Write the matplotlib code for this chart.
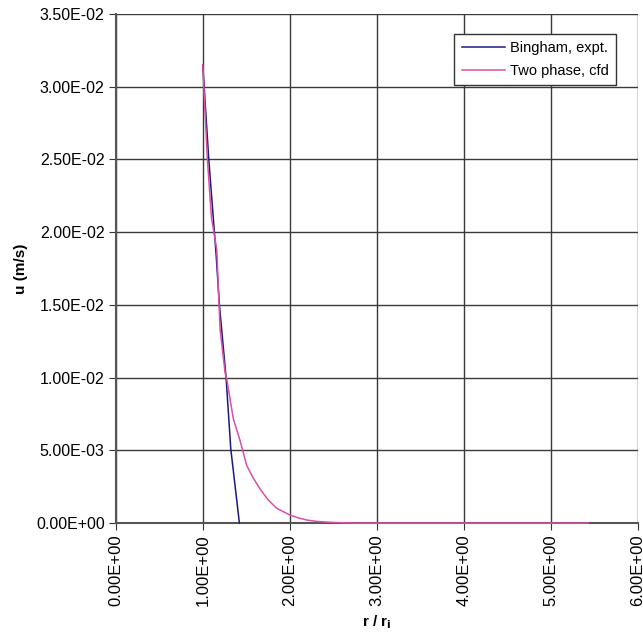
import matplotlib
matplotlib.use("Agg")
import matplotlib.pyplot as plt
from matplotlib.ticker import FuncFormatter, MultipleLocator

plt.rcParams['font.family'] = ['Liberation Sans', 'DejaVu Sans']

# Bingham, experimental profile
r_expt = [1.000, 1.069, 1.153, 1.191, 1.268, 1.322, 1.421]
u_expt = [0.0315, 0.0250, 0.0185, 0.0150, 0.0100, 0.0051, 0.0]

# Two phase, CFD profile
r_cfd = [1.000, 1.053, 1.100, 1.161, 1.199, 1.256, 1.276, 1.314, 1.352,
         1.429, 1.506, 1.580, 1.659, 1.750, 1.851, 2.003, 2.100, 2.195,
         2.300, 2.463, 2.600, 2.730, 3.50, 4.50, 5.43]
u_cfd = [0.0315, 0.0250, 0.0210, 0.0188, 0.01334, 0.01036, 0.0099, 0.0085,
         0.00715, 0.00566, 0.00394, 0.0031, 0.00234, 0.0016, 0.00101,
         0.00055, 0.00035, 0.00021, 0.00012, 0.00005, 0.00002, 0.0, 0.0,
         0.0, 0.0]

fig = plt.figure(figsize=(6.43, 6.34), dpi=100)
ax = fig.add_axes([0.180, 0.175, 0.812, 0.803])

ax.plot(r_expt, u_expt, color='#1c1a7a', lw=1.1, label='Bingham, expt.',
        zorder=4, clip_on=False)
ax.plot(r_cfd, u_cfd, color='#dc4fa6', lw=1.1, label='Two phase, cfd',
        zorder=4, clip_on=False)

ax.set_xlim(0, 6)
ax.set_ylim(0, 0.035)
ax.xaxis.set_major_locator(MultipleLocator(1))
ax.yaxis.set_major_locator(MultipleLocator(0.005))
sci = FuncFormatter(lambda v, p: f'{v:.2E}')
ax.xaxis.set_major_formatter(sci)
ax.yaxis.set_major_formatter(sci)
ax.tick_params(axis='x', labelrotation=90, labelsize=12, length=5,
               direction='out', color='#333333', pad=3)
ax.tick_params(axis='y', labelsize=11.5, length=5, direction='out',
               color='#333333', pad=3)

ax.grid(True, color='#3a3a3a', lw=1.0)
ax.set_axisbelow(True)
for side in ['top', 'right']:
    ax.spines[side].set_visible(False)
for side in ['left', 'bottom']:
    ax.spines[side].set_color('#555555')
    ax.spines[side].set_linewidth(1.5)
    ax.spines[side].set_zorder(3)

ax.set_xlabel('r / r$_\\mathbf{i}$', fontsize=11, fontweight='bold', labelpad=5)
ax.set_ylabel('u (m/s)', fontsize=11, fontweight='bold', labelpad=6)

leg = ax.legend(loc='upper right', bbox_to_anchor=(0.972, 0.975),
                fontsize=10.5, fancybox=False, framealpha=1,
                edgecolor='#333333', handlelength=3.0, borderpad=0.5,
                labelspacing=0.6, handletextpad=0.3)
leg.get_frame().set_linewidth(1.0)

fig.savefig('out.png', dpi=100)
